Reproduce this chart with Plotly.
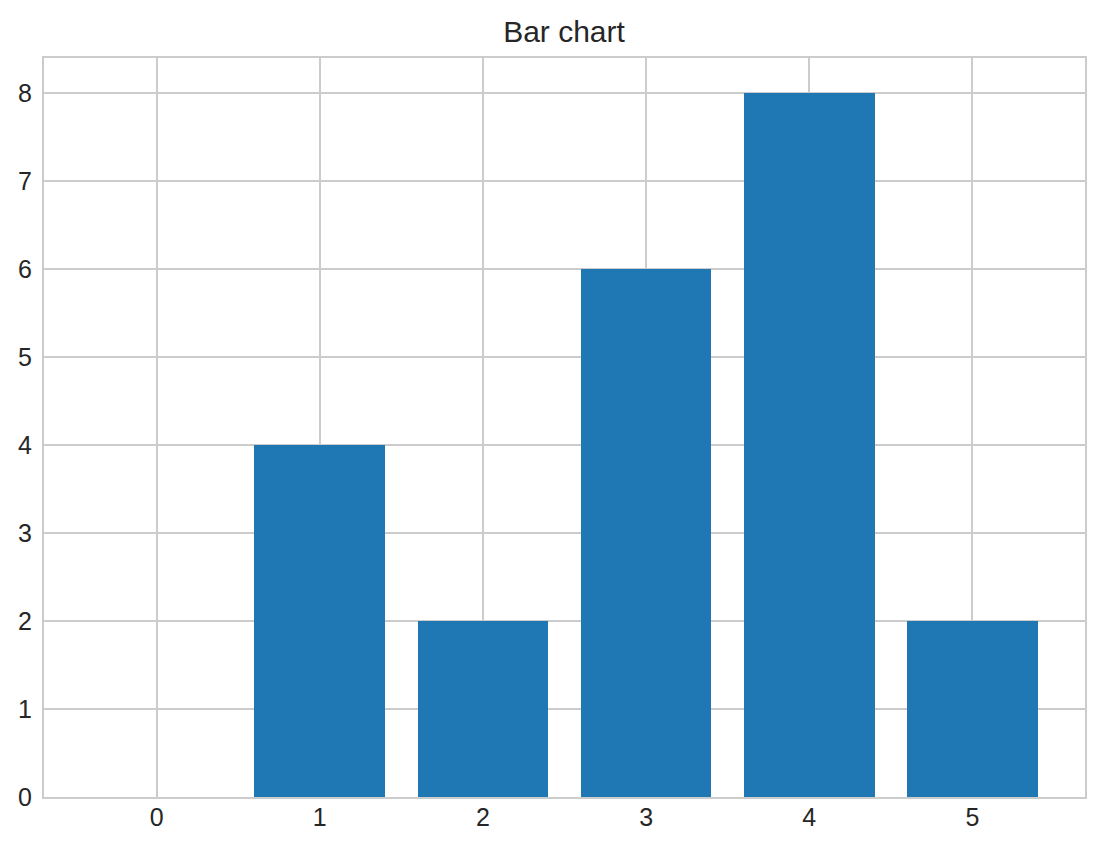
import plotly.graph_objects as go

categories = [0, 1, 2, 3, 4, 5]
values = [0, 4, 2, 6, 8, 2]

# the page body adds an 8px offset, so the figure is a bit smaller
fig_w, fig_h = 1096, 843

fig = go.Figure()
fig.add_trace(
    go.Bar(
        x=categories,
        y=values,
        width=0.8,
        marker=dict(color="#1f77b4", line=dict(width=0)),
    )
)

fig.update_layout(
    width=fig_w,
    height=fig_h,
    margin=dict(l=36, r=19, t=50, b=54),
    paper_bgcolor="white",
    plot_bgcolor="white",
    font=dict(family="Liberation Sans", size=25, color="#262626"),
    title=dict(
        text="Bar chart",
        x=(564 - 8) / fig_w,
        xanchor="center",
        y=1 - 23 / fig_h,
        yanchor="middle",
        font=dict(size=30, color="#262626"),
    ),
    showlegend=False,
    bargap=0,
)

axis_style = dict(
    showgrid=True,
    gridcolor="#cccccc",
    gridwidth=1.5,
    showline=True,
    linecolor="#cccccc",
    linewidth=2,
    mirror=True,
    zeroline=False,
    ticks="outside",
    tickcolor="rgba(0,0,0,0)",
    automargin=False,
)

fig.update_xaxes(
    range=[-0.69, 5.69],
    tickmode="array",
    tickvals=categories,
    ticklen=0,
    ticklabelstandoff=-3,
    **axis_style,
)
fig.update_yaxes(
    range=[0, 8.4],
    tickmode="linear",
    tick0=0,
    dtick=1,
    ticklen=5,
    **axis_style,
)

fig.write_html("out.html")
